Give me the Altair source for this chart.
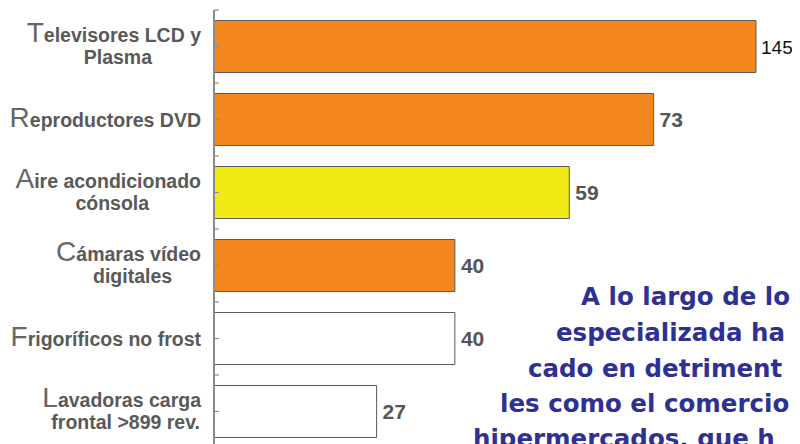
import altair as alt
import pandas as pd

# ---------------- data ----------------
categories = [
    "Televisores LCD y Plasma",
    "Reproductores DVD",
    "Aire acondicionado cónsola",
    "Cámaras vídeo digitales",
    "Frigoríficos no frost",
    "Lavadoras carga frontal >899 rev.",
]
line1 = ["Televisores LCD y", "Reproductores DVD", "Aire acondicionado",
         "Cámaras vídeo", "Frigoríficos no frost", "Lavadoras carga"]
line2 = ["Plasma", "", "cónsola", "digitales", "", "frontal >899 rev."]
values = [145, 73, 59, 40, 40, 27]
groups = ["naranja", "naranja", "amarillo", "naranja", "blanco", "blanco"]
paragraph = ["A lo largo de lo", "especializada ha", "cado en detriment",
             "les como el comercio", "hipermercados, que h"]

# ---------------- text metrics (Arial / Liberation Sans) ----------------
BOLD = {" ": 278, ">": 584, ".": 278, "8": 556, "9": 556,
        "a": 556, "b": 611, "c": 556, "d": 611, "e": 556, "f": 333, "g": 611,
        "h": 611, "i": 278, "j": 278, "k": 556, "l": 278, "m": 889, "n": 611,
        "o": 611, "p": 611, "q": 611, "r": 389, "s": 556, "t": 333, "u": 611,
        "v": 556, "w": 778, "x": 556, "y": 556, "z": 500,
        "á": 556, "í": 278, "ó": 611,
        "A": 722, "C": 722, "D": 722, "F": 611, "L": 611, "P": 667, "R": 722,
        "T": 611, "V": 667}
REG = {"T": 611, "R": 722, "A": 667, "C": 722, "F": 611, "L": 556}


def tw(s, size, table):
    return sum(table.get(c, 556) for c in s) * size / 1000.0


LAB_SIZE = 19.5
BIG_SIZE = 28
RIGHT = -13

rows = []
for cat, l1, l2, v, g in zip(categories, line1, line2, values, groups):
    big, rest = l1[0], l1[1:]
    w_rest = tw(rest, LAB_SIZE, BOLD)
    w_big = tw(big, BIG_SIZE, REG)
    rows.append({
        "cat": cat, "v": v, "g": g,
        "big": big, "rest": rest, "l2": l2,
        "n": 2 if l2 else 1,
        "rx": RIGHT,
        "bx": RIGHT - w_rest,
        "cx": RIGHT - (w_rest + w_big) / 2 + 4,
    })
df = pd.DataFrame(rows)

STEP = 73
PI = 21 / STEP
yscale = alt.Scale(domain=categories, range=[0, STEP * len(categories)],
                   paddingInner=PI, paddingOuter=PI / 2)
xscale = alt.Scale(domain=[0, 90], range=[0, 542], clamp=True)

Y = alt.Y("cat:N", sort=categories, scale=yscale, axis=None)

base = alt.Chart(df)

bars = base.mark_bar(stroke="#5a5a5a", strokeWidth=1).encode(
    x=alt.X("v:Q", scale=xscale, axis=None),
    y=Y,
    color=alt.Color("g:N", scale=alt.Scale(
        domain=["naranja", "amarillo", "blanco"],
        range=["#F5871F", "#F2EA14", "#FFFFFF"]), legend=None),
)

val_big = base.transform_filter("datum.v > 90").mark_text(
    align="left", baseline="middle", dx=5, dy=1, font="Liberation Sans",
    fontSize=19, color="#111111").encode(
    x=alt.X("v:Q", scale=xscale, axis=None), y=Y, text="v:Q")

val_rest = base.transform_filter("datum.v <= 90").mark_text(
    align="left", baseline="middle", dx=6, dy=1, font="Liberation Sans",
    fontWeight="bold", fontSize=21, color="#555555").encode(
    x=alt.X("v:Q", scale=xscale, axis=None), y=Y, text="v:Q")

label_font = dict(font="Liberation Sans", fontWeight="bold",
                  fontSize=LAB_SIZE, color="#595959", baseline="alphabetic")
big_font = dict(font="Liberation Sans", fontWeight="normal",
                fontSize=BIG_SIZE, color="#666666", baseline="alphabetic",
                align="right")

layers = [bars, val_big, val_rest]
for n, dy1 in [(2, -4.5), (1, 7)]:
    sub = base.transform_filter(f"datum.n == {n}")
    layers.append(sub.mark_text(align="right", dy=dy1, **label_font).encode(
        x=alt.X("rx:Q", scale=None), y=Y, text="rest:N"))
    layers.append(sub.mark_text(dy=dy1, **big_font).encode(
        x=alt.X("bx:Q", scale=None), y=Y, text="big:N"))
layers.append(base.transform_filter("datum.n == 2").mark_text(
    align="center", dy=17, **label_font).encode(
    x=alt.X("cx:Q", scale=None), y=Y, text="l2:N"))

# axis line and ticks (ticks point inwards)
layers.append(base.mark_rule(color="#8c8c8c", strokeWidth=1.5).encode(
    x=alt.value(0), y=alt.value(0), y2=alt.value(STEP * len(categories))))
for off in [-STEP / 2, 0]:
    layers.append(base.mark_rule(color="#8c8c8c", strokeWidth=1.2,
                                 yOffset=off).encode(
        y=alt.Y("cat:N", sort=categories, scale=yscale, axis=None,
                bandPosition=0.5),
        x=alt.value(0), x2=alt.value(5)))

# overlaid paragraph text (a slide text box cut by the picture's edge)
para_pos = [(367, 295), (342, 331), (314, 367), (286, 402), (259, 437)]
for txt, (px, py) in zip(paragraph, para_pos):
    layers.append(alt.Chart(pd.DataFrame({"t": [txt]})).mark_text(
        align="left", baseline="alphabetic", font="DejaVu Sans",
        fontWeight="bold", fontSize=24.5, color="#2E3192").encode(
        x=alt.value(px), y=alt.value(py), text="t:N"))

chart = alt.layer(*layers).resolve_scale(x="independent").properties(
    width=578, height=434,
    padding={"left": 206, "top": 2, "right": 0, "bottom": 0},
    autosize="none",
).configure_view(stroke=None)

chart.save("out.html", embed_options={"renderer": "svg", "actions": False})
